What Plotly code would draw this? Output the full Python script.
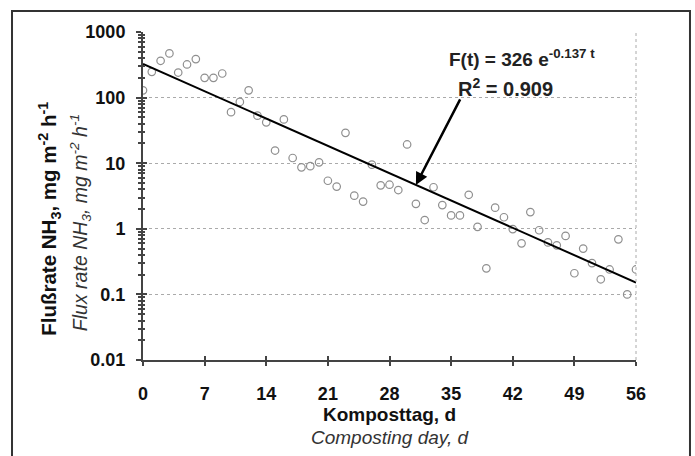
import math
import plotly.graph_objects as go

# ---- data ----
days = list(range(57))
flux = [129, 247, 364, 472, 241, 320, 386, 200, 200, 233,
        60, 86, 129, 53, 42, 15.6, 46.5, 12, 8.65, 9,
        10.3, 5.4, 4.4, 29, 3.2, 2.6, 9.5, 4.6, 4.7, 3.9,
        19.3, 2.4, 1.36, 4.3, 2.3, 1.6, 1.6, 3.3, 1.07, 0.25,
        2.1, 1.5, 0.99, 0.6, 1.8, 0.95, 0.62, 0.56, 0.78, 0.21,
        0.5, 0.30, 0.17, 0.24, 0.69, 0.10, 0.24]
fit_a = 326
fit_b = 0.137
fit_r2 = 0.909
fit_days = [0, 56]
fit_vals = [fit_a * math.exp(-fit_b * t) for t in fit_days]
arrow_day = 31
x_ticks = [0, 7, 14, 21, 28, 35, 42, 49, 56]
y_ticks = [0.01, 0.1, 1, 10, 100, 1000]
y_ticktext = ["0.01", "0.1", "1", "10", "100", "1000"]

FONT = "Arial, Liberation Sans, sans-serif"
AX = "#444444"

fig = go.Figure()
fig.add_trace(go.Scatter(
    x=days, y=flux, mode="markers",
    marker=dict(symbol="circle-open", size=7.5, color="#8f8f8f", line=dict(width=1.2)),
    xaxis="x", yaxis="y", showlegend=False, hoverinfo="skip"))
fig.add_trace(go.Scatter(
    x=fit_days, y=fit_vals, mode="lines",
    line=dict(color="black", width=2),
    xaxis="x2", yaxis="y2", showlegend=False, hoverinfo="skip"))

tickfont = dict(family=FONT, size=18, color="#111111", weight="bold")

fig.update_layout(
    width=695, height=456,
    margin=dict(l=143, r=59, t=32, b=96),
    paper_bgcolor="white", plot_bgcolor="white",
    xaxis=dict(range=[0, 56], tickvals=x_ticks, ticks="outside", ticklen=4,
               tickwidth=1.5, tickcolor=AX, showline=True, linecolor=AX, linewidth=2,
               showgrid=False, zeroline=False, tickfont=tickfont, ticklabelstandoff=12),
    yaxis=dict(type="log", range=[-2, 3], tickvals=y_ticks, ticktext=y_ticktext,
               ticks="outside", ticklen=5, tickwidth=1.5, tickcolor=AX,
               showline=True, linecolor=AX, linewidth=2,
               showgrid=True, gridcolor="#aaaaaa", griddash="dot", gridwidth=1,
               zeroline=False, tickfont=tickfont, ticklabelstandoff=7,
               minor=dict(ticks="outside", ticklen=3, tickcolor=AX, dtick="D1", showgrid=False)),
    xaxis2=dict(range=[0, 56], overlaying="x", side="bottom", anchor="y2",
                tickvals=x_ticks, ticks="inside", ticklen=4, tickwidth=1.5, tickcolor=AX,
                showticklabels=False, showgrid=False, zeroline=False, showline=False),
    yaxis2=dict(type="log", range=[-2, 3], overlaying="y", side="left", anchor="x2",
                tickvals=y_ticks, ticks="inside", ticklen=4, tickwidth=1.5, tickcolor=AX,
                showticklabels=False, showgrid=False, zeroline=False, showline=False,
                minor=dict(ticks="inside", ticklen=2, tickcolor=AX, dtick="D1", showgrid=False)),
)

# right dotted border and outer frame
fig.add_shape(type="line", xref="paper", yref="paper", x0=1, x1=1, y0=0, y1=1,
              line=dict(color="#aaaaaa", width=1, dash="dot"))
fig.add_shape(type="rect", xref="paper", yref="paper",
              x0=-0.2657, x1=1.1095, y0=-0.40, y1=1.064,
              line=dict(color="#333333", width=2))

# equation texts
fig.add_annotation(xref="paper", yref="paper", x=0.616, y=0.92, xanchor="left", yanchor="middle",
                   text=f"<b>F(t) = {fit_a} e<sup>-{fit_b} t</sup></b>", showarrow=False,
                   font=dict(family=FONT, size=19, color="#222222"))
fig.add_annotation(xref="paper", yref="paper", x=0.736, y=0.83, xanchor="center", yanchor="middle",
                   text=f"<b>R<sup>2</sup> = {fit_r2}</b>", showarrow=False,
                   font=dict(family=FONT, size=20, color="#222222"))
fig.add_annotation(xref="x", yref="y", x=arrow_day,
                   y=math.log10(fit_a * math.exp(-fit_b * arrow_day)),
                   ax=45, ay=-87, text="", showarrow=True,
                   arrowhead=2, arrowsize=1, arrowwidth=2.5, arrowcolor="black")

# y-axis titles
fig.add_annotation(xref="paper", yref="paper", x=-0.189, y=0.43, textangle=-90,
                   xanchor="center", yanchor="middle",
                   text="<b>Flußrate NH<sub>3</sub>, mg m<sup>-2</sup> h<sup>-1</sup></b>",
                   showarrow=False, font=dict(family=FONT, size=20.5, color="#111111"))
fig.add_annotation(xref="paper", yref="paper", x=-0.128, y=0.42, textangle=-90,
                   xanchor="center", yanchor="middle",
                   text="<i>Flux rate NH<sub>3</sub>, mg m<sup>-2</sup> h<sup>-1</sup></i>",
                   showarrow=False, font=dict(family=FONT, size=19.5, color="#333333"))
# x-axis titles
fig.add_annotation(xref="paper", yref="paper", x=0.5, y=-0.165, yanchor="middle",
                   text="<b>Komposttag, d</b>", showarrow=False,
                   font=dict(family=FONT, size=19, color="#111111"))
fig.add_annotation(xref="paper", yref="paper", x=0.5, y=-0.237, yanchor="middle",
                   text="<i>Composting day, d</i>", showarrow=False,
                   font=dict(family=FONT, size=19, color="#333333"))

fig.write_html("out.html", config={"displayModeBar": False},
               post_script="document.body.style.margin='0';document.body.style.overflow='hidden';")
